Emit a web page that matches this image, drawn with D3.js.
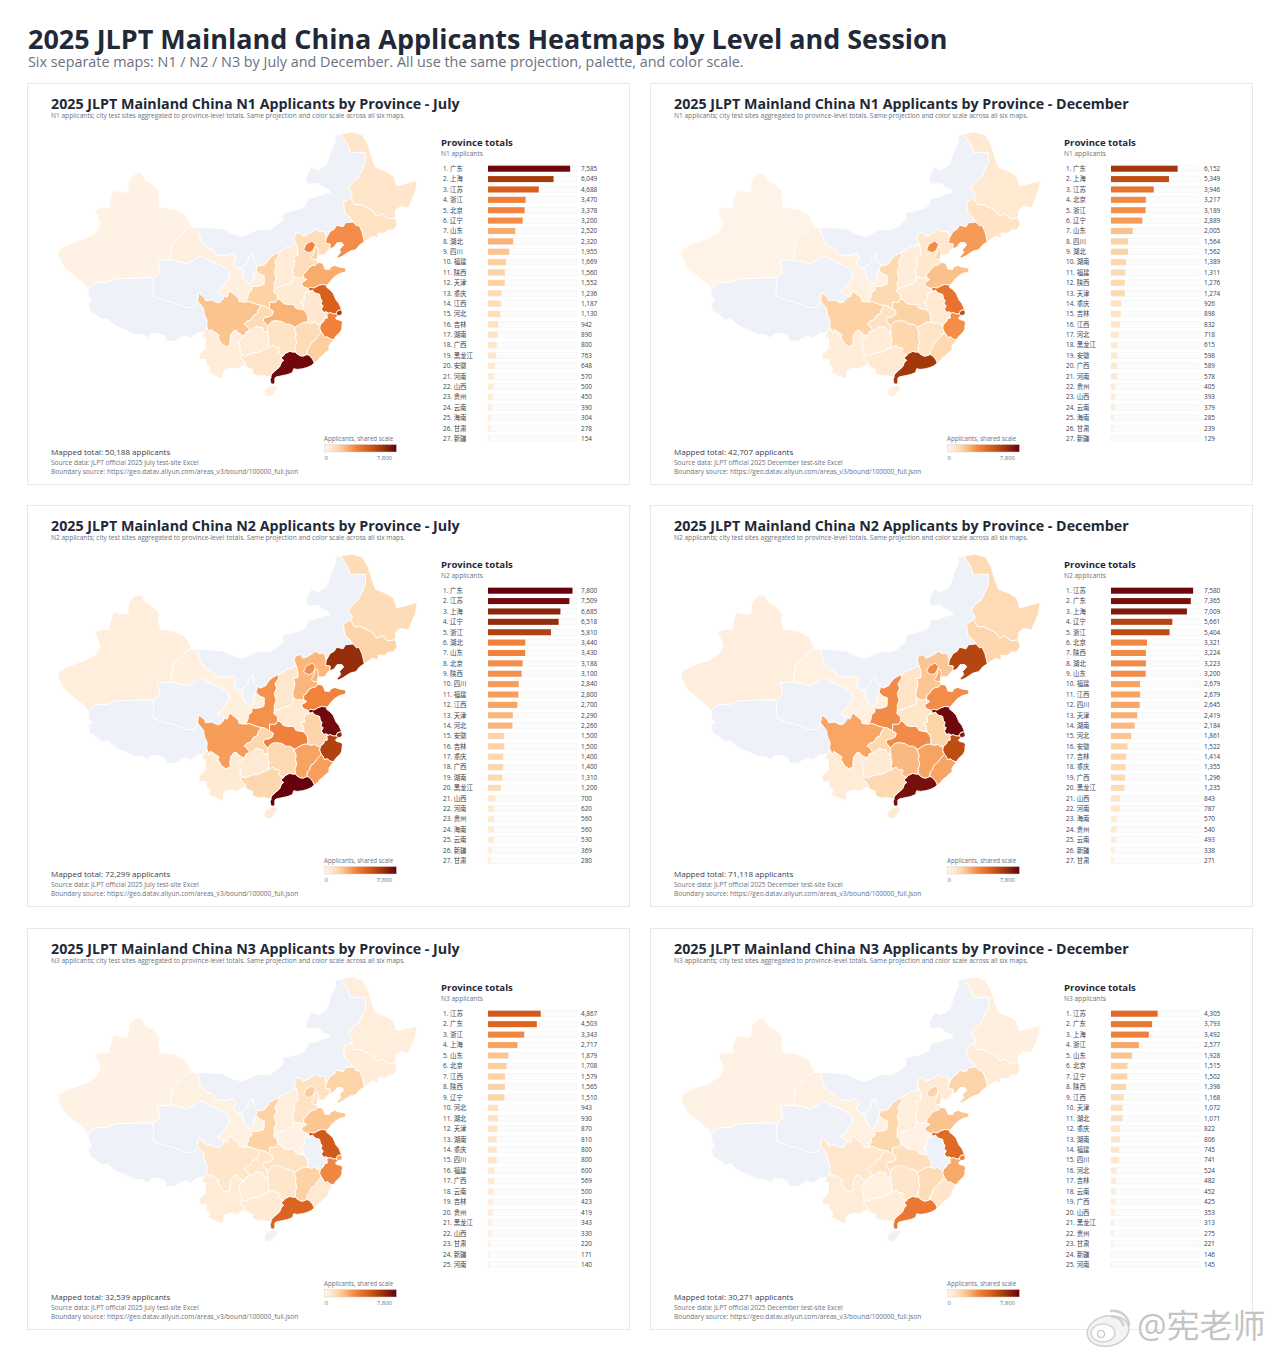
<!DOCTYPE html>
<html>
<head>
<meta charset="utf-8">
<script src="https://cdn.jsdelivr.net/npm/d3@7/dist/d3.min.js"></script>
<style>
html,body{margin:0;padding:0;background:#fff}
svg{display:block}
text{font-family:"Open Sans","Noto Sans CJK SC",sans-serif}
</style>
</head>
<body>
<svg id="chart" width="1280" height="1357"></svg>
<script>
// Applicant totals per province, in ranked order, one pair of lists per map.
const n1JulyProvinces = ["广东","上海","江苏","浙江","北京","辽宁","山东","湖北","四川","福建","陕西","天津","重庆","江西","河北","吉林","湖南","广西","黑龙江","安徽","河南","山西","贵州","云南","海南","甘肃","新疆"];
const n1JulyValues = [7585,6049,4688,3470,3378,3200,2520,2320,1955,1669,1560,1552,1236,1187,1130,942,890,800,763,648,570,500,450,390,304,278,154];
const n1DecProvinces = ["广东","上海","江苏","北京","浙江","辽宁","山东","四川","湖北","湖南","福建","陕西","天津","重庆","吉林","江西","河北","黑龙江","安徽","广西","河南","贵州","山西","云南","海南","甘肃","新疆"];
const n1DecValues = [6152,5349,3946,3217,3189,2889,2005,1564,1562,1389,1311,1276,1274,926,898,832,718,615,598,589,578,405,393,379,285,239,129];
const n2JulyProvinces = ["广东","江苏","上海","辽宁","浙江","湖北","山东","北京","陕西","四川","福建","江西","天津","河北","安徽","吉林","重庆","广西","湖南","黑龙江","山西","河南","贵州","海南","云南","新疆","甘肃"];
const n2JulyValues = [7800,7509,6685,6518,5810,3440,3430,3188,3100,2840,2800,2700,2290,2260,1500,1500,1400,1400,1310,1200,700,620,560,560,530,369,280];
const n2DecProvinces = ["江苏","广东","上海","辽宁","浙江","北京","陕西","湖北","山东","福建","江西","四川","天津","湖南","河北","安徽","吉林","重庆","广西","黑龙江","山西","河南","海南","贵州","云南","新疆","甘肃"];
const n2DecValues = [7580,7365,7009,5661,5404,3321,3224,3223,3200,2679,2679,2645,2419,2184,1861,1522,1414,1355,1296,1235,843,787,570,540,493,338,271];
const n3JulyProvinces = ["江苏","广东","浙江","上海","山东","北京","江西","陕西","辽宁","河北","湖北","天津","湖南","重庆","四川","福建","广西","云南","吉林","贵州","黑龙江","山西","甘肃","新疆","河南"];
const n3JulyValues = [4867,4503,3343,2717,1879,1708,1579,1565,1510,943,930,870,810,800,800,600,569,500,423,419,343,330,220,171,140];
const n3DecProvinces = ["江苏","广东","上海","浙江","山东","北京","辽宁","陕西","江西","天津","湖北","重庆","湖南","福建","四川","河北","吉林","云南","广西","山西","黑龙江","贵州","甘肃","新疆","河南"];
const n3DecValues = [4305,3793,3492,2577,1928,1515,1502,1398,1168,1072,1071,822,806,745,741,524,482,452,425,353,313,275,221,146,145];

const levels = ["N1","N2","N3"];
const sessions = ["July","December"];
const mapProvinces = [n1JulyProvinces,n1DecProvinces,n2JulyProvinces,n2DecProvinces,n3JulyProvinces,n3DecProvinces];
const mapValues = [n1JulyValues,n1DecValues,n2JulyValues,n2DecValues,n3JulyValues,n3DecValues];
const scaleMax = 7800;

// Simplified province borders as shared lon/lat arcs, so neighbours meet exactly.
const arcs = {
  xj_outer:[[96.4,42.75],[95.4,44.25],[93.5,44.95],[91.0,45.2],[90.7,46.5],[91.0,46.9],[89.8,47.85],[88.5,48.35],[87.8,49.15],[86.8,49.1],[85.7,48.35],[85.5,47.05],[84.7,46.95],[83.0,47.2],[82.3,45.55],[82.5,45.2],[81.0,45.2],[79.9,44.9],[80.8,43.2],[80.2,42.2],[78.5,41.4],[76.9,41.0],[75.5,40.6],[73.9,40.0],[73.6,39.4],[74.0,38.5],[74.9,37.3],[75.9,36.7],[77.8,35.5],[78.7,34.6]],
  xj_xz:[[78.7,34.6],[80.0,35.4],[82.0,35.5],[83.5,36.0],[85.5,36.0],[87.5,36.1],[89.8,36.1]],
  xj_qh:[[89.8,36.1],[91.0,36.8],[90.5,38.4],[92.7,38.5]],
  xj_gs:[[92.7,38.5],[93.2,40.8],[94.9,42.0],[95.7,42.6],[96.4,42.75]],
  xz_outer:[[78.7,34.6],[78.9,33.4],[79.4,32.9],[78.8,32.5],[79.0,31.4],[80.2,30.8],[81.1,30.1],[82.0,30.3],[83.5,29.2],[85.2,28.6],[86.5,28.0],[88.1,27.9],[88.9,27.4],[89.5,28.1],[90.5,28.1],[91.7,27.8],[92.1,26.9],[93.5,26.95],[95.1,27.75],[96.2,27.4],[97.3,28.2],[98.4,28.3]],
  xz_yn:[[98.4,28.3],[98.7,28.6],[98.9,29.1]],
  xz_sc:[[98.9,29.1],[99.0,30.0],[98.5,31.0],[98.4,31.8],[97.35,32.9]],
  xz_qh:[[97.35,32.9],[96.8,32.0],[95.6,31.9],[93.5,32.6],[91.5,33.0],[89.8,33.6],[89.9,35.0],[89.8,36.1]],
  qh_gs:[[92.7,38.5],[94.5,38.3],[95.5,38.0],[97.0,38.6],[97.5,39.0],[98.3,39.0],[99.0,38.6],[100.2,38.2],[101.1,37.9],[102.1,37.4],[102.7,36.9],[102.8,36.3],[102.4,35.7],[101.7,34.9],[101.0,34.4],[100.8,34.1],[101.8,33.7],[102.4,33.4]],
  sc_qh:[[97.35,32.9],[97.6,34.0],[98.6,33.3],[98.7,32.9],[99.8,33.0],[100.7,32.6],[101.2,32.7],[101.8,33.2],[101.9,33.6],[102.4,33.4]],
  gs_mongol:[[96.4,42.75],[97.2,42.75]],
  gs_nm:[[97.2,42.75],[97.6,42.0],[97.9,41.1],[98.9,40.2],[99.9,40.0],[100.3,39.3],[101.8,39.1],[102.5,39.2],[103.5,39.4],[103.9,38.7],[103.4,38.0],[104.3,37.4]],
  gs_nx:[[104.3,37.4],[105.2,37.1],[105.0,36.6],[105.3,36.0],[105.9,35.5],[106.1,35.2],[106.5,35.5],[106.9,35.8],[106.9,36.4],[107.3,37.1]],
  gs_sn:[[107.3,37.1],[108.0,36.6],[108.7,36.4],[108.7,35.5],[108.6,35.2],[107.9,35.0],[107.2,34.9],[106.6,35.0],[106.6,34.4],[106.0,34.0],[106.0,33.6],[105.8,33.1],[105.5,32.7]],
  sc_gs:[[102.4,33.4],[102.8,34.3],[103.7,33.7],[104.3,33.3],[104.4,32.8],[105.5,32.7]],
  nx_nm:[[104.3,37.4],[105.2,37.7],[105.9,38.3],[106.0,38.9],[106.8,39.4],[106.8,38.6],[107.6,37.9]],
  nx_sn:[[107.6,37.9],[107.3,37.1]],
  nm_outer:[[97.2,42.75],[100.0,42.65],[101.8,42.5],[103.4,41.9],[105.0,41.6],[107.5,42.45],[109.5,42.45],[110.4,42.8],[111.9,43.7],[111.8,44.5],[113.6,44.8],[114.8,45.0],[115.7,45.4],[116.2,46.3],[117.4,46.4],[118.9,46.8],[119.9,46.9],[119.7,47.2],[118.5,47.6],[117.8,48.0],[116.0,47.9],[115.8,48.6],[116.7,49.8],[117.8,49.5],[119.2,50.0],[119.5,50.4],[120.1,51.7],[120.8,52.5],[120.7,53.2],[121.7,53.3]],
  nm_hl:[[121.7,53.3],[122.9,52.2],[123.3,51.4],[125.9,51.4],[125.9,50.3],[124.7,48.6],[123.6,48.0],[123.0,47.4],[123.7,46.6],[123.4,46.3]],
  nm_jl:[[123.4,46.3],[122.2,45.8],[122.3,45.0],[122.5,44.4],[123.2,44.0],[123.8,43.4]],
  nm_ln:[[123.8,43.4],[122.5,43.3],[122.1,42.8],[121.0,43.0],[120.6,42.5],[119.9,42.2],[119.2,41.3]],
  nm_he:[[119.2,41.3],[119.0,42.2],[118.0,42.2],[117.4,42.5],[116.9,42.2],[116.0,41.8],[115.3,41.6],[114.8,42.1],[114.0,41.9],[113.8,41.3],[114.1,40.7]],
  nm_sx:[[114.1,40.7],[113.3,40.3],[112.9,40.3],[111.9,39.9],[111.1,39.5]],
  nm_sn:[[111.1,39.5],[110.3,39.2],[109.6,38.8],[108.9,38.0],[108.0,37.7],[107.6,37.9]],
  hl_outer:[[121.7,53.3],[123.6,53.5],[125.4,53.2],[126.4,52.1],[126.9,51.0],[127.6,49.8],[129.5,49.3],[130.7,48.8],[131.2,47.7],[133.0,48.0],[134.7,48.3],[134.4,47.0],[133.2,45.1],[131.9,45.3],[131.0,44.8],[131.0,43.9]],
  hl_jl:[[131.0,43.9],[129.7,43.8],[128.7,44.4],[127.8,44.1],[127.1,44.8],[126.0,45.2],[125.0,45.5],[124.0,45.5],[123.4,46.3]],
  jl_outer:[[131.0,43.9],[131.3,43.0],[130.6,42.4],[129.8,42.4],[129.2,42.0],[128.0,42.0],[128.1,41.4],[127.1,41.6],[126.3,41.2],[125.7,40.9]],
  jl_ln:[[125.7,40.9],[125.5,41.6],[125.3,42.2],[124.8,43.0],[124.4,42.9],[123.9,43.3],[123.8,43.4]],
  ln_outer:[[125.7,40.9],[124.9,40.5],[124.3,39.9],[123.3,39.7],[122.0,39.05],[121.2,38.75],[121.1,39.0],[121.7,39.5],[121.5,39.9],[122.2,40.5],[121.9,40.8],[121.1,40.8],[120.5,40.2],[119.8,40.0]],
  ln_he:[[119.8,40.0],[119.9,40.6],[119.1,40.7],[119.2,41.3]],
  he_coast:[[119.8,40.0],[119.5,39.8],[118.9,39.2],[118.0,39.2],[117.8,39.15],[117.7,38.65],[117.6,38.6],[117.85,38.2]],
  he_sd:[[117.85,38.2],[117.3,37.8],[116.9,37.8],[116.3,37.5],[115.8,36.9],[115.4,36.7],[115.4,36.1]],
  he_ha:[[115.4,36.1],[115.0,36.1],[114.3,36.1],[113.7,36.3]],
  he_sx:[[113.7,36.3],[113.5,37.0],[113.8,37.9],[113.9,38.4],[113.6,39.0],[114.4,39.1],[114.4,39.9],[114.1,40.7]],
  sd_coast:[[117.85,38.2],[118.6,38.1],[118.9,37.6],[119.0,37.3],[119.8,37.25],[120.0,37.6],[120.7,37.8],[121.4,37.6],[122.1,37.5],[122.6,37.4],[122.5,36.9],[121.5,36.7],[120.7,36.3],[120.3,36.0],[119.5,35.2],[119.3,35.1]],
  sd_js:[[119.3,35.1],[118.5,35.2],[117.8,35.0],[117.2,34.7],[116.5,34.8],[116.2,34.6]],
  sd_ha:[[116.2,34.6],[115.3,34.9],[115.0,35.4],[115.9,35.9],[115.4,36.1]],
  js_coast:[[119.3,35.1],[119.3,34.8],[119.8,34.5],[120.4,34.0],[120.9,33.0],[121.4,32.5],[121.85,31.6]],
  sh_js:[[121.85,31.6],[121.2,31.5],[121.0,31.2],[120.95,31.0]],
  js_zj:[[120.95,31.0],[120.4,31.0],[119.9,31.2],[119.6,31.1]],
  js_ah:[[119.6,31.1],[119.2,31.3],[118.8,31.2],[118.4,31.7],[118.7,32.2],[118.3,32.4],[118.5,32.9],[118.2,33.3],[118.1,33.8],[117.3,34.0],[116.9,34.4],[116.4,34.2]],
  js_ha:[[116.4,34.2],[116.2,34.6]],
  sh_coast:[[121.85,31.6],[121.95,31.1],[121.8,30.85],[121.2,30.75]],
  sh_zj:[[121.2,30.75],[120.95,31.0]],
  zj_coast:[[121.2,30.75],[120.8,30.4],[121.0,30.2],[121.7,30.05],[122.0,29.8],[121.9,29.2],[121.9,28.8],[121.6,28.3],[121.1,27.9],[120.7,27.5],[120.45,27.15]],
  zj_fj:[[120.45,27.15],[119.8,27.3],[119.5,27.6],[118.9,27.5],[118.7,28.0],[118.4,28.3]],
  zj_jx:[[118.4,28.3],[118.1,28.9],[118.2,29.4]],
  zj_ah:[[118.2,29.4],[118.8,29.9],[118.9,30.3],[119.4,30.4],[119.3,31.0],[119.6,31.1]],
  ah_ha:[[116.4,34.2],[115.7,34.1],[115.4,33.6],[115.6,33.0],[115.0,32.9],[114.9,32.5],[115.2,32.6],[115.4,32.0],[115.4,31.6]],
  ah_hb:[[115.4,31.6],[115.9,31.1],[116.1,30.6],[116.1,29.8]],
  ah_jx:[[116.1,29.8],[116.8,29.6],[117.2,29.8],[117.7,29.5],[118.2,29.4]],
  fj_coast:[[120.45,27.15],[120.1,26.7],[119.7,26.2],[119.7,25.6],[119.1,25.2],[118.8,24.9],[118.1,24.4],[117.8,24.0],[117.2,23.6]],
  fj_gd:[[117.2,23.6],[116.9,24.2],[116.5,24.6],[116.3,24.8],[115.9,24.9]],
  fj_jx:[[115.9,24.9],[116.0,25.6],[116.4,26.0],[116.6,26.6],[117.2,27.0],[117.6,27.5],[118.0,27.9],[118.4,28.3]],
  gd_coast:[[117.2,23.6],[116.7,23.2],[116.0,22.9],[115.2,22.7],[114.3,22.6],[113.7,22.7],[113.5,22.1],[112.7,21.8],[111.7,21.6],[110.7,21.4],[110.5,21.2],[110.5,20.4],[110.2,20.25],[109.8,20.35],[109.7,21.0],[109.9,21.45],[109.75,21.5]],
  gd_gx:[[109.75,21.5],[110.0,21.9],[110.4,22.3],[110.7,22.5],[111.3,23.0],[111.6,23.7],[112.0,24.0],[111.5,24.4],[112.0,24.75]],
  gd_hn:[[112.0,24.75],[112.3,25.1],[113.0,25.4],[113.6,25.3],[114.0,25.3]],
  gd_jx:[[114.0,25.3],[114.3,25.0],[114.9,24.7],[115.4,24.7],[115.9,24.9]],
  jx_hn:[[114.0,25.3],[113.9,26.0],[114.2,26.8],[114.0,27.5],[114.1,28.2],[113.7,29.0],[113.9,29.05]],
  jx_hb:[[113.9,29.05],[114.9,29.6],[115.5,29.8],[116.1,29.8]],
  hn_hb:[[113.9,29.05],[113.1,29.5],[112.4,29.5],[111.7,29.9],[110.6,30.05],[110.0,29.9],[109.5,29.5],[109.2,29.1]],
  hn_cq:[[109.2,29.1],[109.3,28.3]],
  hn_gz:[[109.3,28.3],[109.3,27.6],[109.5,27.2],[109.4,26.5],[109.5,26.0],[109.4,25.9]],
  hn_gx:[[109.4,25.9],[110.0,26.3],[110.3,26.3],[110.6,25.9],[111.2,26.0],[111.4,25.7],[111.0,25.3],[111.3,25.1],[112.0,24.75]],
  hb_ha:[[115.4,31.6],[114.8,31.7],[114.1,31.8],[113.7,32.4],[112.7,32.4],[112.0,32.5],[111.5,33.0],[111.0,33.2]],
  hb_sn:[[111.0,33.2],[110.6,32.7],[110.1,32.7],[109.6,32.7],[109.6,31.9],[109.6,31.7]],
  hb_cq:[[109.6,31.7],[110.2,31.4],[110.1,30.9],[109.5,30.6],[108.7,30.5],[108.5,30.0],[109.0,29.5],[109.2,29.1]],
  ha_sn:[[111.0,33.2],[110.9,33.8],[110.3,34.2],[110.4,34.6]],
  ha_sx:[[110.4,34.6],[111.2,34.8],[112.0,35.1],[112.7,35.2],[113.6,35.6],[113.6,36.1],[113.7,36.3]],
  sx_sn:[[110.4,34.6],[110.4,35.4],[110.7,36.0],[110.4,37.0],[110.8,37.7],[110.5,38.3],[111.1,39.0],[111.1,39.5]],
  sn_sc:[[105.5,32.7],[106.1,32.8],[107.3,32.4],[108.2,32.2]],
  sn_cq:[[108.2,32.2],[108.6,32.2],[109.6,31.7]],
  sc_cq:[[108.2,32.2],[107.7,31.6],[107.5,31.0],[106.9,30.8],[106.4,30.1],[105.7,29.9],[105.3,29.5],[105.7,29.3],[106.0,28.9],[106.3,28.5]],
  sc_gz:[[106.3,28.5],[105.7,28.4],[105.3,27.7]],
  sc_yn:[[105.3,27.7],[104.4,28.1],[103.9,28.6],[103.5,28.5],[103.0,27.9],[102.9,27.2],[102.9,26.3],[102.1,26.1],[101.4,26.6],[100.8,27.5],[101.0,27.9],[100.3,28.3],[99.6,28.7],[99.4,28.2],[98.9,29.1]],
  cq_gz:[[106.3,28.5],[106.7,28.7],[107.4,29.2],[107.8,29.0],[108.4,29.0],[108.6,28.4],[109.3,28.3]],
  gz_gx:[[109.4,25.9],[109.0,25.8],[108.3,25.5],[107.5,25.2],[106.9,25.2],[106.0,24.9],[105.4,24.7],[105.0,24.9]],
  gz_yn:[[105.3,27.7],[104.6,27.3],[104.3,26.7],[104.6,26.0],[104.6,25.2],[105.0,24.9]],
  gx_yn:[[105.0,24.9],[104.6,24.4],[105.0,24.1],[105.6,23.4],[105.3,23.3]],
  gx_coast:[[105.3,23.3],[105.9,22.9],[106.7,22.6],[106.7,22.0],[107.5,21.6],[108.1,21.55],[108.5,21.7],[109.1,21.5],[109.75,21.5]],
  yn_outer:[[98.4,28.3],[98.1,27.6],[98.7,27.5],[98.7,25.9],[97.6,24.9],[97.7,24.1],[98.8,24.1],[98.9,23.2],[99.5,22.9],[99.2,22.1],[100.0,21.7],[100.6,21.5],[101.2,21.2],[101.7,21.2],[101.8,22.4],[102.5,22.7],[103.4,22.8],[103.9,22.6],[105.3,23.3]]
};

// Each province is a closed walk over the arcs; "-" walks an arc backwards.
const provinceArcs = {
  "新疆":["xj_outer","xj_xz","xj_qh","xj_gs"],
  "西藏":["xz_outer","xz_yn","xz_sc","xz_qh","-xj_xz"],
  "青海":["xj_qh","qh_gs","-sc_qh","xz_qh"],
  "甘肃":["gs_mongol","gs_nm","gs_nx","gs_sn","-sc_gs","-qh_gs","xj_gs"],
  "宁夏":["nx_nm","nx_sn","-gs_nx"],
  "内蒙古":["nm_outer","nm_hl","nm_jl","nm_ln","nm_he","nm_sx","nm_sn","-nx_nm","-gs_nm"],
  "黑龙江":["hl_outer","hl_jl","-nm_hl"],
  "吉林":["jl_outer","jl_ln","-nm_jl","-hl_jl"],
  "辽宁":["ln_outer","ln_he","-nm_ln","-jl_ln"],
  "河北":["he_coast","he_sd","he_ha","he_sx","-nm_he","-ln_he"],
  "山东":["sd_coast","sd_js","sd_ha","-he_sd"],
  "江苏":["js_coast","sh_js","js_zj","js_ah","js_ha","-sd_js"],
  "上海":["sh_coast","sh_zj","-sh_js"],
  "浙江":["zj_coast","zj_fj","zj_jx","zj_ah","-js_zj","-sh_zj"],
  "安徽":["-zj_ah","-ah_jx","-ah_hb","-ah_ha","-js_ah"],
  "福建":["fj_coast","fj_gd","fj_jx","-zj_fj"],
  "广东":["gd_coast","gd_gx","gd_hn","gd_jx","-fj_gd"],
  "江西":["jx_hn","jx_hb","ah_jx","-zj_jx","-fj_jx","-gd_jx"],
  "湖南":["hn_hb","hn_cq","hn_gz","hn_gx","gd_hn","jx_hn"],
  "湖北":["hb_ha","hb_sn","hb_cq","-hn_hb","jx_hb","-ah_hb"],
  "河南":["ha_sn","ha_sx","-he_ha","-sd_ha","-js_ha","ah_ha","hb_ha"],
  "山西":["sx_sn","-nm_sx","-he_sx","-ha_sx"],
  "陕西":["sn_sc","sn_cq","-hb_sn","ha_sn","sx_sn","nm_sn","nx_sn","gs_sn"],
  "四川":["sc_qh","sc_gs","sn_sc","sc_cq","sc_gz","sc_yn","xz_sc"],
  "重庆":["-sc_cq","sn_cq","hb_cq","hn_cq","-cq_gz"],
  "贵州":["cq_gz","hn_gz","gz_gx","-gz_yn","-sc_gz"],
  "广西":["gx_yn","gx_coast","gd_gx","-hn_gx","gz_gx"],
  "云南":["yn_outer","-gx_yn","-gz_yn","sc_yn","-xz_yn"]
};

// Provinces enclosed by or cut out of Hebei, and the island, drawn as plain rings.
const plainRings = {
  "海南":[[108.7,19.2],[109.2,19.8],[110.2,20.1],[110.7,20.1],[111.0,19.7],[110.6,19.1],[110.0,18.4],[109.5,18.2],[108.7,18.5]],
  "天津":[[117.8,39.15],[117.9,39.6],[117.7,40.2],[117.2,40.1],[117.3,39.6],[117.1,39.6],[117.0,39.2],[116.7,38.9],[117.0,38.6],[117.6,38.6],[117.7,38.65]],
  "北京":[[115.4,39.9],[115.8,40.6],[116.3,40.8],[116.8,41.0],[117.4,40.6],[117.2,40.1],[116.9,39.7],[116.4,39.5],[115.9,39.6]]
};

function walkArcs(refs) {
  const ring = [];
  refs.forEach(ref => {
    const backwards = ref[0] === "-";
    const pts = arcs[backwards ? ref.slice(1) : ref];
    (backwards ? pts.slice().reverse() : pts).forEach((p, i) => {
      if (i > 0 || ring.length === 0) ring.push(p);
    });
  });
  return ring;
}

function toFeature(name, ring) {
  const closed = ring.concat([ring[0]]);
  const f = {type:"Feature", properties:{name}, geometry:{type:"Polygon", coordinates:[closed]}};
  // d3.geoPath expects the exterior ring to enclose the smaller side of the sphere
  if (d3.geoArea(f) > 2 * Math.PI) f.geometry.coordinates[0] = closed.slice().reverse();
  return f;
}

const features = Object.keys(provinceArcs).map(n => toFeature(n, walkArcs(provinceArcs[n])))
  .concat(Object.keys(plainRings).map(n => toFeature(n, plainRings[n])));
const china = {type:"FeatureCollection", features};

const colorStops = ["#fff5eb","#ffe5c9","#fdd3a6","#f9ab6b","#f0803a","#d95f1c","#a63c0c","#67000d"];
const colorDomain = [0,800,1560,2520,3470,4688,6049,7800];
const color = d3.scaleLinear().domain(colorDomain).range(colorStops).interpolate(d3.interpolateRgb).clamp(true);
const noDataFill = "#eef1f7";
const fmt = d3.format(",");

const svg = d3.select("#chart");
const defs = svg.append("defs");
const grad = defs.append("linearGradient").attr("id","scale-gradient");
colorDomain.forEach((v,i) => grad.append("stop").attr("offset", v/scaleMax).attr("stop-color", colorStops[i]));

const ink = "#1f2937", mid = "#374151", muted = "#6b7280";

// Page heading
svg.append("text").attr("x",28).attr("y",49).attr("font-size",26.96).attr("font-weight",700).attr("fill",ink)
  .text("2025 JLPT Mainland China Applicants Heatmaps by Level and Session");
svg.append("text").attr("x",28).attr("y",67).attr("font-size",14.36).attr("fill",muted)
  .text("Six separate maps: N1 / N2 / N3 by July and December. All use the same projection, palette, and color scale.");

const cardX = [28,651];
const cardY = [84,506,929];
const cardW = 602, cardH = 401;

const projection = d3.geoMercator().fitExtent([[29,48],[390,313]], china);
const path = d3.geoPath(projection);

const barX = d3.scaleLinear().domain([0,scaleMax]).range([460,544.5]);

function drawCard(index) {
  const level = levels[Math.floor(index/2)], session = sessions[index%2];
  const names = mapProvinces[index], values = mapValues[index];
  const byName = new Map(names.map((n,i) => [n, values[i]]));
  const g = svg.append("g").attr("transform",`translate(${cardX[index%2]},${cardY[Math.floor(index/2)]})`);

  g.append("rect").attr("x",-0.5).attr("y",-0.5).attr("width",cardW).attr("height",cardH)
    .attr("fill","#fff").attr("stroke","#e6e8ec");

  g.append("text").attr("x",23).attr("y",24.5).attr("font-size",14.26).attr("font-weight",700).attr("fill",ink)
    .text(`2025 JLPT Mainland China ${level} Applicants by Province - ${session}`);
  g.append("text").attr("x",23).attr("y",33.5).attr("font-size",6.6).attr("fill",muted)
    .text(`${level} applicants; city test sites aggregated to province-level totals. Same projection and color scale across all six maps.`);

  g.append("g").selectAll("path").data(features).join("path")
    .attr("d",path)
    .attr("fill",d => byName.has(d.properties.name) ? color(byName.get(d.properties.name)) : noDataFill)
    .attr("stroke","#fff").attr("stroke-width",0.9).attr("stroke-linejoin","round");

  // Ranked province list
  g.append("text").attr("x",413).attr("y",61.5).attr("font-size",9.6).attr("font-weight",700).attr("fill",ink).text("Province totals");
  g.append("text").attr("x",413).attr("y",71.5).attr("font-size",6.6).attr("fill",muted).text(`${level} applicants`);

  const step = names.length > 25 ? 10.38 : 10.46;
  const rows = g.append("g").selectAll("g").data(names).join("g").attr("transform",(d,i)=>`translate(0,${84.7 + i*step})`);
  rows.append("rect").attr("x",barX(0)).attr("y",-3).attr("width",89).attr("height",6)
    .attr("fill","#fcfcfd").attr("stroke","#f2f3f5").attr("stroke-width",0.6);
  rows.append("rect").attr("x",barX(0)).attr("y",-3).attr("height",6)
    .attr("width",(d,i)=>barX(values[i])-barX(0)).attr("fill",(d,i)=>color(values[i]));
  rows.append("text").attr("x",415).attr("y",2.3).attr("font-size",6.4).attr("fill",mid).text((d,i)=>`${i+1}. ${d}`);
  rows.append("text").attr("x",553).attr("y",2.3).attr("font-size",6.4).attr("fill",mid).text((d,i)=>fmt(values[i]));

  // Shared colour key
  g.append("text").attr("x",296).attr("y",356.5).attr("font-size",6.2).attr("fill",muted).text("Applicants, shared scale");
  g.append("rect").attr("x",296.5).attr("y",360.5).attr("width",72).attr("height",7.5)
    .attr("fill","url(#scale-gradient)").attr("stroke","#d1d5db").attr("stroke-width",0.5);
  g.append("text").attr("x",296.5).attr("y",376).attr("font-size",6).attr("fill",muted).text("0");
  g.append("text").attr("x",364).attr("y",376).attr("font-size",6).attr("text-anchor","end").attr("fill",muted).text(fmt(scaleMax));

  // Footer notes
  g.append("text").attr("x",23).attr("y",370.5).attr("font-size",8).attr("fill",mid)
    .text(`Mapped total: ${fmt(d3.sum(values))} applicants`);
  g.append("text").attr("x",23).attr("y",380.5).attr("font-size",6.6).attr("fill",muted)
    .text(`Source data: JLPT official 2025 ${session} test-site Excel`);
  g.append("text").attr("x",23).attr("y",390).attr("font-size",6.6).attr("fill",muted)
    .text("Boundary source: https://geo.datav.aliyun.com/areas_v3/bound/100000_full.json");
}
d3.range(6).forEach(drawCard);

// Account mark in the lower right corner
const mark = svg.append("g");
mark.append("ellipse").attr("cx",1108).attr("cy",1331).attr("rx",21).attr("ry",15).attr("transform","rotate(-12 1108 1331)")
  .attr("fill","#f4f4f4").attr("stroke","#cfcfcf").attr("stroke-width",1.5);
mark.append("ellipse").attr("cx",1103).attr("cy",1333).attr("rx",12).attr("ry",9).attr("fill","#fff").attr("stroke","#d4d4d4").attr("stroke-width",1.5);
mark.append("circle").attr("cx",1101).attr("cy",1334).attr("r",3.5).attr("fill","none").attr("stroke","#c4c4c4").attr("stroke-width",1.2);
[[9,12],[15,19]].forEach(([a,b]) => {
  mark.append("path").attr("transform","translate(1113,1327)")
    .attr("d",d3.arc()({innerRadius:a,outerRadius:a+2.6,startAngle:-0.2,endAngle:1.5}))
    .attr("fill","#d0d0d0");
});
svg.append("text").attr("x",1137).attr("y",1338).attr("font-size",33).attr("fill","#c4c4c4")
  .attr("stroke","#fff").attr("stroke-width",2).attr("paint-order","stroke")
  .attr("font-family","'Noto Sans CJK SC'").text("@宪老师");
</script>
</body>
</html>
